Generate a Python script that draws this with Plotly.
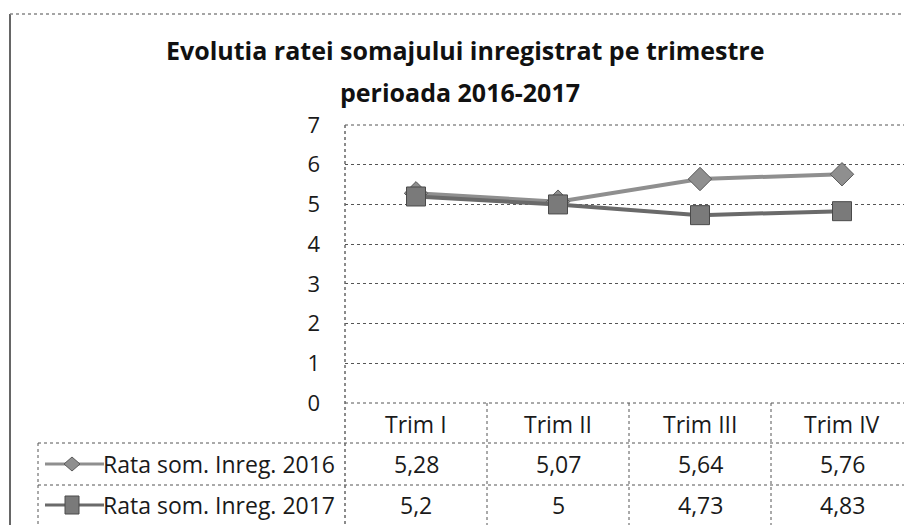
import plotly.graph_objects as go

categories = ["Trim I", "Trim II", "Trim III", "Trim IV"]
series_names = ["Rata som. Inreg. 2016", "Rata som. Inreg. 2017"]
values_2016 = [5.28, 5.07, 5.64, 5.76]
values_2017 = [5.2, 5.0, 4.73, 4.83]
y_ticks = [0, 1, 2, 3, 4, 5, 6, 7]
title_lines = ["Evolutia ratei somajului inregistrat pe trimestre", "perioada 2016-2017"]

W, H = 904, 525
PL, PR, PT, PB = 345, 904, 125, 403   # plot area in pixels
pw, ph = PR - PL, PB - PT

def px(p):
    return (p - PL) / pw

def py(p):
    return (PB - p) / ph

def fmt(v):
    return f"{v:g}".replace(".", ",")

FONT = "Open Sans, Noto Sans, sans-serif"
c2016 = "#8f8f8f"
c2017 = "#6a6a6a"

fig = go.Figure()
fig.add_trace(go.Scatter(
    x=list(range(len(categories))), y=values_2016, mode="lines+markers",
    name=series_names[0], line=dict(color=c2016, width=4),
    marker=dict(symbol="diamond", size=18, color=c2016, line=dict(color="#5a5a5a", width=1)),
))
fig.add_trace(go.Scatter(
    x=list(range(len(categories))), y=values_2017, mode="lines+markers",
    name=series_names[1], line=dict(color=c2017, width=4),
    marker=dict(symbol="square", size=19, color="#7a7a7a", line=dict(color="#4a4a4a", width=1)),
))

ncat = len(categories)
col_px = 142.0
xr = [-0.5, -0.5 + pw / col_px]

shapes = []
annotations = []
grid_col = "#555555"

y_axis0 = 403
y_hdr_line = 443
y_row_line = 485
y_bottom = 525
x_tab_left = 38

def hline(y, x0p, x1p, color=grid_col, dash="dot", width=1):
    shapes.append(dict(type="line", xref="paper", yref="paper",
                       x0=px(x0p), x1=px(x1p), y0=py(y), y1=py(y),
                       line=dict(color=color, width=width, dash=dash)))

def vline(x, y0p, y1p, color=grid_col, dash="dot", width=1):
    shapes.append(dict(type="line", xref="paper", yref="paper",
                       x0=px(x), x1=px(x), y0=py(y0p), y1=py(y1p),
                       line=dict(color=color, width=width, dash=dash)))

# chart border
vline(10, 14, 525, color="#666666", dash="solid", width=2)
hline(14, 10, 904, color="#888888", dash="dot", width=1.5)

# plot edges (7 and 0) and table lines
hline(PT, PL, 904)
hline(y_axis0, PL, 904)
hline(y_hdr_line, x_tab_left, 904)
hline(y_row_line, x_tab_left, 904)
vline(x_tab_left, y_hdr_line, y_bottom)
vline(PL, PT, y_bottom, color="#666666", dash="dot", width=1.5)
for k in range(1, ncat + 1):
    shapes.append(dict(type="line", xref="x", yref="paper",
                       x0=k - 0.5, x1=k - 0.5, y0=py(y_axis0), y1=py(y_bottom),
                       line=dict(color=grid_col, width=1, dash="dot")))

tfont = dict(family=FONT, size=23, color="#1a1a1a")

for i, c in enumerate(categories):
    annotations.append(dict(x=i, y=py(424), xref="x", yref="paper", text=c,
                            showarrow=False, font=tfont, xanchor="center", yanchor="middle"))

rows = [(values_2016, py(464), series_names[0], "diamond", c2016),
        (values_2017, py(505), series_names[1], "square", c2017)]
for vals, yc, name, sym, col in rows:
    for i, v in enumerate(vals):
        annotations.append(dict(x=i, y=yc, xref="x", yref="paper", text=fmt(v),
                                showarrow=False, font=tfont, xanchor="center", yanchor="middle"))
    annotations.append(dict(x=px(101), y=yc, xref="paper", yref="paper", text=name,
                            showarrow=False, font=tfont, xanchor="left", yanchor="middle"))
    shapes.append(dict(type="line", xref="paper", yref="paper",
                       x0=px(45), x1=px(104), y0=yc, y1=yc,
                       line=dict(color=col, width=3)))
    if sym == "diamond":
        shapes.append(dict(type="path", xref="paper", yref="paper",
                           xsizemode="pixel", ysizemode="pixel",
                           xanchor=px(72), yanchor=yc,
                           path="M -8 0 L 0 7 L 8 0 L 0 -7 Z",
                           fillcolor=col, line=dict(color="#5a5a5a", width=1)))
    else:
        shapes.append(dict(type="rect", xref="paper", yref="paper",
                           xsizemode="pixel", ysizemode="pixel",
                           xanchor=px(72), yanchor=yc,
                           x0=-7, x1=7, y0=-9, y1=9,
                           fillcolor="#7a7a7a", line=dict(color="#4a4a4a", width=1)))

tf = dict(family=FONT, size=25, color="#111111", weight="bold")
annotations.append(dict(x=px(465), y=py(50), xref="paper", yref="paper",
                        text=title_lines[0], showarrow=False, font=tf,
                        xanchor="center", yanchor="middle"))
annotations.append(dict(x=px(460), y=py(92), xref="paper", yref="paper",
                        text=title_lines[1], showarrow=False, font=tf,
                        xanchor="center", yanchor="middle"))

fig.update_layout(
    width=W, height=H,
    margin=dict(l=PL, r=W - PR, t=PT, b=H - PB, pad=0),
    paper_bgcolor="white", plot_bgcolor="white",
    showlegend=False,
    shapes=shapes, annotations=annotations,
    xaxis=dict(range=xr, showticklabels=False, showgrid=False, zeroline=False,
               showline=False, ticks=""),
    yaxis=dict(range=[0, 7], tickvals=y_ticks, ticktext=[str(t) for t in y_ticks],
               showgrid=True, gridcolor=grid_col, gridwidth=1, griddash="dot",
               zeroline=False, showline=False, ticks="", ticklabelstandoff=24,
               tickfont=dict(family=FONT, size=22, color="#1a1a1a")),
)

fig.write_html("out.html", config={"displayModeBar": False},
               post_script="document.body.style.margin='0';document.body.style.overflow='hidden';")
